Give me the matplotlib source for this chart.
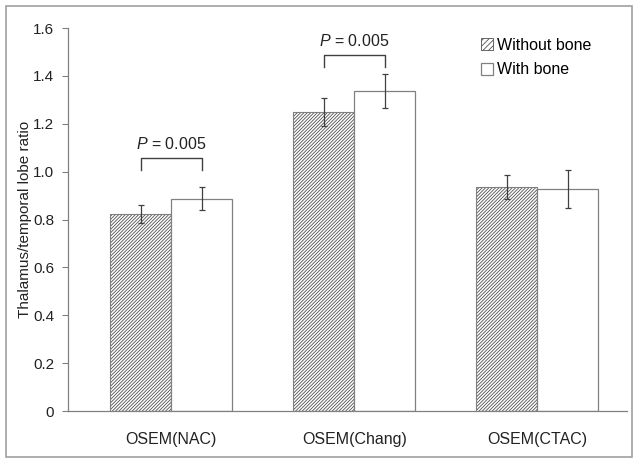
import numpy as np
import matplotlib
matplotlib.use("Agg")
import matplotlib.pyplot as plt
from matplotlib.patches import Patch, Rectangle

plt.rcParams["font.family"] = ["Liberation Sans", "DejaVu Sans"]
plt.rcParams["mathtext.fontset"] = "custom"
plt.rcParams["mathtext.it"] = "Liberation Sans:italic"
plt.rcParams["mathtext.rm"] = "Liberation Sans"
plt.rcParams["hatch.linewidth"] = 0.6

# Daten
categories = ["OSEM(NAC)", "OSEM(Chang)", "OSEM(CTAC)"]
without_bone = [0.823, 1.249, 0.936]
without_err = [0.037, 0.058, 0.052]
with_bone = [0.886, 1.337, 0.927]
with_err = [0.048, 0.073, 0.078]
p_labels = ["0.005", "0.005", None]
bracket_top = [1.057, 1.487, None]
yticks = [0, 0.2, 0.4, 0.6, 0.8, 1.0, 1.2, 1.4, 1.6]
ytick_labels = ["0", "0.2", "0.4", "0.6", "0.8", "1.0", "1.2", "1.4", "1.6"]

gray = "#808080"
dark = "#404040"
txt = "#222222"
hatch = "/" * 10

fig = plt.figure(figsize=(6.36, 4.58), dpi=100)
ax = fig.add_axes([0.107, 0.1026, 0.879, 0.8362])

x = np.arange(len(categories))
w = 0.333

ax.bar(x - w / 2, without_bone, w, color="white", edgecolor="#505050",
       hatch=hatch, linewidth=0.6)
ax.bar(x - w / 2, without_bone, w, color="none", edgecolor=gray, linewidth=0.8)
ax.bar(x + w / 2, with_bone, w, color="white", edgecolor=gray, linewidth=0.9)

ax.errorbar(x - w / 2, without_bone, yerr=without_err, fmt="none",
            ecolor=dark, elinewidth=0.9, capsize=2, capthick=0.9)
ax.errorbar(x + w / 2, with_bone, yerr=with_err, fmt="none",
            ecolor=dark, elinewidth=0.9, capsize=2, capthick=0.9)

# Signifikanzklammern
for i, p in enumerate(p_labels):
    if p is None:
        continue
    top = bracket_top[i]
    leg = top - 0.05
    x0, x1 = i - w / 2, i + w / 2
    ax.plot([x0, x0, x1, x1], [leg, top, top, leg], color=dark, lw=1.0)
    ax.text(i, top + 0.06, "$P$ = " + p, ha="center", va="center",
            fontsize=11.5, color=txt)

ax.set_xlim(-0.563, 2.49)
ax.set_ylim(0, 1.6)
ax.set_xticks(x)
ax.set_xticklabels(categories)
ax.set_yticks(yticks)
ax.set_yticklabels(ytick_labels)
ax.tick_params(axis="x", length=0, pad=15, labelsize=11.5, colors=txt)
ax.tick_params(axis="y", length=4, width=0.8, pad=6, labelsize=11,
               colors=txt, color=gray)
ax.set_ylabel("Thalamus/temporal lobe ratio", fontsize=11, color=txt,
              labelpad=1)

for side in ["top", "right"]:
    ax.spines[side].set_visible(False)
for side in ["left", "bottom"]:
    ax.spines[side].set_color(gray)
    ax.spines[side].set_linewidth(0.9)

handles = [Patch(facecolor="white", edgecolor="#505050", hatch="//////", linewidth=0.6),
           Patch(facecolor="white", edgecolor=gray, linewidth=0.9)]
ax.legend(handles, ["Without bone", "With bone"], loc="upper left",
          bbox_to_anchor=(0.757, 0.918), bbox_transform=fig.transFigure,
          frameon=False, fontsize=11.5, handlelength=0.75, handleheight=0.75,
          handletextpad=0.2, labelspacing=0.62, borderaxespad=0, borderpad=0)

# Rahmen um die Abbildung
fig.patches.append(Rectangle((0.009, 0.003), 0.985, 0.984,
                             transform=fig.transFigure, fill=False,
                             edgecolor="#a0a0a0", linewidth=1.2))

fig.savefig("out.png", dpi=100)
